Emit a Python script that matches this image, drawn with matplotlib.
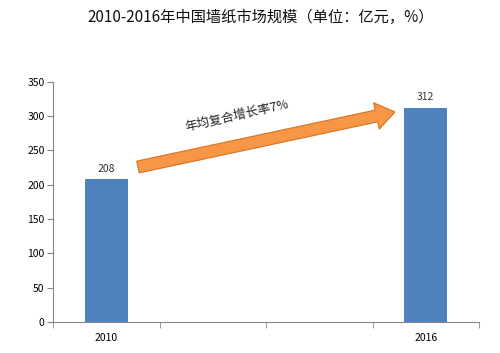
import numpy as np
import matplotlib.pyplot as plt
from matplotlib.patches import FancyArrow

plt.rcParams['font.family'] = ['Noto Sans CJK SC', 'DejaVu Sans']

# dados
anos = ["2010", "", "", "2016"]
valores = [208, np.nan, np.nan, 312]
titulo = "2010-2016年中国墙纸市场规模（单位：亿元，%）"
texto_seta = "年均复合增长率7%"

fig = plt.figure(figsize=(5, 3.53), dpi=100)
ax = fig.add_axes([0.106, 0.088, 0.852, 0.68])

x = np.arange(len(anos))
ax.bar(x, valores, width=0.4, color='#4F81BD')

# rótulos dos valores
for xi, v in zip(x, valores):
    if not np.isnan(v):
        ax.text(xi, v + 8, f"{v:.0f}", ha='center', va='bottom', fontsize=7.5, color='#333333')

ax.set_xlim(-0.5, len(anos) - 0.5)
ax.set_ylim(0, 350)
ax.set_yticks(range(0, 351, 50))
ax.set_xticks(x)
ax.set_xticklabels(anos)
ax.set_xticks(np.arange(-0.5, len(anos), 1), minor=True)
ax.tick_params(axis='x', which='major', length=0, labelsize=7.5, pad=8)
ax.tick_params(axis='x', which='minor', length=4, color='#868686')
ax.tick_params(axis='y', length=4, color='#868686', labelsize=7.5, pad=2)

for s in ['top', 'right']:
    ax.spines[s].set_visible(False)
for s in ['left', 'bottom']:
    ax.spines[s].set_color('#868686')
    ax.spines[s].set_linewidth(0.8)

# seta de crescimento (em polegadas, pra não distorcer)
p0 = (1.38, 3.53 - 1.67)
p1 = (3.95, 3.53 - 1.12)
seta = FancyArrow(p0[0], p0[1], p1[0] - p0[0], p1[1] - p0[1],
                  width=0.12, head_width=0.27, head_length=0.19,
                  length_includes_head=True, transform=fig.dpi_scale_trans,
                  facecolor='#F79646', edgecolor='#D8731E', linewidth=0.8)
fig.patches.append(seta)
fig.text(237 / 500, 1 - 116 / 353, texto_seta, rotation=12.8, ha='center', va='center',
         fontsize=9, color='#222222')

fig.text(261 / 500, 1 - 17 / 353, titulo, ha='center', va='center', fontsize=11,
         color='#111111', fontweight='light')

plt.savefig("out.png", dpi=100)
